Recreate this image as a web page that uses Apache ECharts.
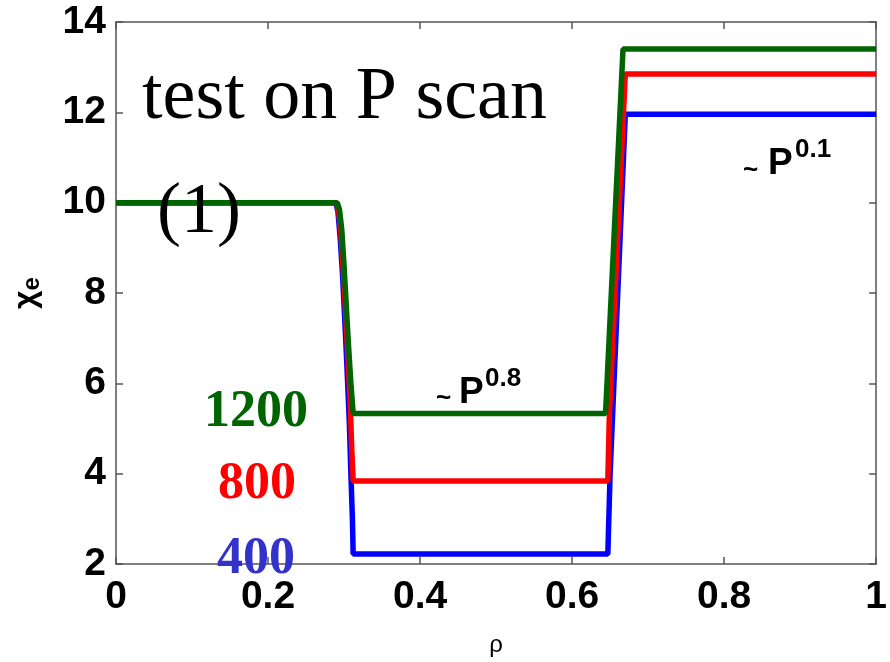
<!DOCTYPE html>
<html>
<head>
<meta charset="utf-8">
<script src="https://cdn.jsdelivr.net/npm/echarts@6/dist/echarts.min.js"></script>
<style>html,body{margin:0;padding:0;background:#fff;overflow:hidden}#c{width:890px;height:662px}</style>
</head>
<body>
<div id="c"></div>
<script>
// ---- data ----
const xTicks = [0, 0.2, 0.4, 0.6, 0.8, 1];
const yTicks = [2, 4, 6, 8, 10, 12, 14];

const rho1200 = [0, 0.291, 0.294, 0.297, 0.300, 0.303, 0.306, 0.309, 0.312, 0.644, 0.667, 1];
const chi1200 = [10, 10, 9.85, 9.4, 8.6, 7.7, 6.8, 6.0, 5.33, 5.33, 13.4, 13.4];

const rho800 = [0, 0.290, 0.293, 0.296, 0.299, 0.302, 0.305, 0.308, 0.310, 0.312, 0.647, 0.649, 0.670, 1];
const chi800 = [10, 10, 9.8, 9.3, 8.5, 7.6, 6.6, 5.6, 4.6, 3.84, 3.84, 5.3, 12.85, 12.85];

const rho400 = [0, 0.289, 0.292, 0.295, 0.298, 0.301, 0.304, 0.307, 0.309, 0.311, 0.312, 0.647, 0.650, 0.670, 1];
const chi400 = [10, 10, 9.8, 9.2, 8.4, 7.4, 6.3, 5.1, 4.0, 3.0, 2.22, 2.22, 4.0, 11.96, 11.96];

const seriesNames = ['400', '800', '1200'];
const seriesColors = ['#0000ff', '#ff0000', '#006400'];

function pairs(xs, ys) { return xs.map((x, i) => [x, ys[i]]); }

const chart = echarts.init(document.getElementById('c'));
const axisLineStyle = { color: '#555', width: 1.5 };
const tickFont = { fontFamily: '"Liberation Sans", Arial, sans-serif', fontWeight: 'bold', fontSize: 39, color: '#000' };

const option = {
  animation: false,
  backgroundColor: '#fff',
  grid: { left: 116, right: 4, top: 22, bottom: 92, containLabel: false },
  xAxis: [
    {
      type: 'value', min: 0, max: 1, interval: 0.2, position: 'bottom',
      axisLine: { show: true, onZero: false, lineStyle: axisLineStyle },
      axisTick: { show: true, inside: true, length: 7, lineStyle: axisLineStyle },
      splitLine: { show: false },
      axisLabel: Object.assign({ margin: 14, formatter: v => String(+v.toFixed(1)) }, tickFont),
      name: 'ρ', nameLocation: 'middle', nameGap: 69,
      nameTextStyle: { fontFamily: '"Liberation Sans", Arial, sans-serif', fontSize: 24, color: '#000' }
    },
    {
      type: 'value', min: 0, max: 1, interval: 0.2, position: 'top',
      axisLine: { show: true, onZero: false, lineStyle: axisLineStyle },
      axisTick: { show: true, inside: true, length: 7, lineStyle: axisLineStyle },
      splitLine: { show: false }, axisLabel: { show: false }
    }
  ],
  yAxis: [
    {
      type: 'value', min: 2, max: 14, interval: 2, position: 'left',
      axisLine: { show: true, onZero: false, lineStyle: axisLineStyle },
      axisTick: { show: true, inside: true, length: 7, lineStyle: axisLineStyle },
      splitLine: { show: false },
      axisLabel: Object.assign({ margin: 10 }, tickFont),
      name: '{a|χ}{b|e}', nameLocation: 'middle', nameGap: 72,
      nameTextStyle: {
        rich: {
          a: { fontFamily: '"Liberation Sans", Arial, sans-serif', fontSize: 32, fontWeight: 'bold', color: '#000' },
          b: { fontFamily: '"Liberation Sans", Arial, sans-serif', fontSize: 24, fontWeight: 'bold', color: '#000', padding: [12, 0, 0, 0] }
        }
      }
    },
    {
      type: 'value', min: 2, max: 14, interval: 2, position: 'right',
      axisLine: { show: true, onZero: false, lineStyle: axisLineStyle },
      axisTick: { show: true, inside: true, length: 7, lineStyle: axisLineStyle },
      splitLine: { show: false }, axisLabel: { show: false }
    }
  ],
  series: [
    { name: seriesNames[0], type: 'line', showSymbol: false, data: pairs(rho400, chi400), lineStyle: { width: 5.5, color: seriesColors[0] }, itemStyle: { color: seriesColors[0] }, z: 2 },
    { name: seriesNames[1], type: 'line', showSymbol: false, data: pairs(rho800, chi800), lineStyle: { width: 5.5, color: seriesColors[1] }, itemStyle: { color: seriesColors[1] }, z: 3 },
    { name: seriesNames[2], type: 'line', showSymbol: false, data: pairs(rho1200, chi1200), lineStyle: { width: 5.5, color: seriesColors[2] }, itemStyle: { color: seriesColors[2] }, z: 4 }
  ],
  graphic: [
    { type: 'text', left: 142, top: 62, z: 10, style: { text: 'test on P scan', font: '74px "Liberation Serif", "Times New Roman", serif', fill: '#000' } },
    { type: 'text', left: 157, top: 177, z: 10, style: { text: '(1)', font: '72px "Liberation Serif", "Times New Roman", serif', fill: '#000' } },
    { type: 'text', left: 204, top: 387, z: 10, style: { text: seriesNames[2], font: 'bold 52px "Liberation Serif", "Times New Roman", serif', fill: '#006400' } },
    { type: 'text', left: 218, top: 459, z: 10, style: { text: seriesNames[1], font: 'bold 52px "Liberation Serif", "Times New Roman", serif', fill: '#ff0000' } },
    { type: 'text', left: 217, top: 534, z: 10, style: { text: seriesNames[0], font: 'bold 52px "Liberation Serif", "Times New Roman", serif', fill: '#3333cc' } },

    { type: 'text', left: 436, top: 386, z: 10, style: { text: '~', font: 'bold 26px "Liberation Sans", Arial, sans-serif', fill: '#000' } },
    { type: 'text', left: 459, top: 374, z: 10, style: { text: 'P', font: 'bold 37px "Liberation Sans", Arial, sans-serif', fill: '#000' } },
    { type: 'text', left: 485, top: 366, z: 10, style: { text: '0.8', font: 'bold 26px "Liberation Sans", Arial, sans-serif', fill: '#000' } },

    { type: 'text', left: 743, top: 158, z: 10, style: { text: '~', font: 'bold 26px "Liberation Sans", Arial, sans-serif', fill: '#000' } },
    { type: 'text', left: 768, top: 145, z: 10, style: { text: 'P', font: 'bold 37px "Liberation Sans", Arial, sans-serif', fill: '#000' } },
    { type: 'text', left: 795, top: 137, z: 10, style: { text: '0.1', font: 'bold 26px "Liberation Sans", Arial, sans-serif', fill: '#000' } }
  ]
};
chart.setOption(option);
</script>
</body>
</html>
